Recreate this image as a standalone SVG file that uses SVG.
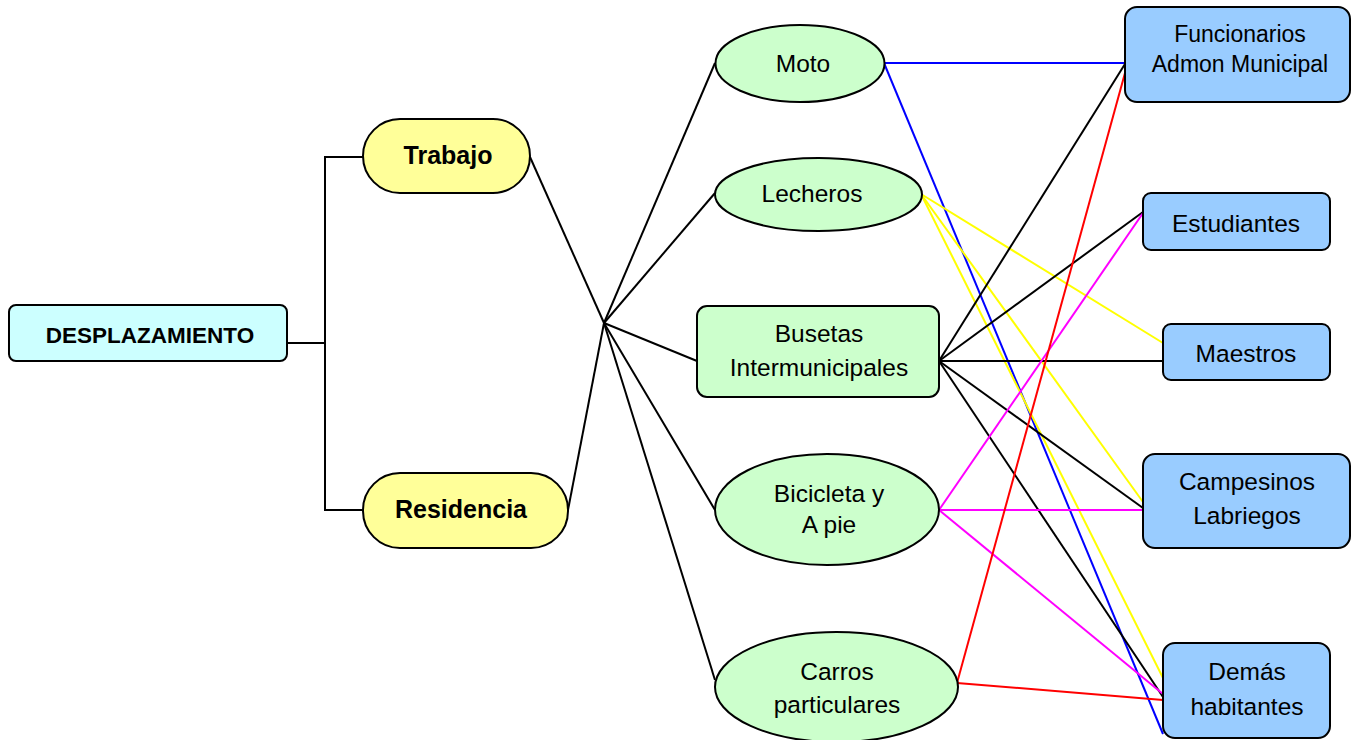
<svg xmlns="http://www.w3.org/2000/svg" width="1358" height="740" viewBox="0 0 1358 740">
<style>
text{font-family:"Liberation Sans",Arial,sans-serif;fill:#000;text-anchor:middle}
.b{font-weight:bold}
.n{font-size:24.5px}
.shape{stroke:#000;stroke-width:2}
.root{fill:#ccffff}
.yel{fill:#ffff99}
.grn{fill:#ccffcc}
.blu{fill:#99ccff}
#connectors line,#connectors polyline{fill:none;stroke-width:2}
.k{stroke:#000}
.bl{stroke:#0000ff}
.y{stroke:#ffff00}
.m{stroke:#ff00ff}
.r{stroke:#ff0000}
</style>
<rect width="1358" height="740" fill="#fff"/>
<g id="connectors">
<polyline class="k" points="287,343 325,343"/>
<polyline class="k" points="363,157 325,157 325,510 363,510"/>
<line class="k" x1="530" y1="157" x2="604" y2="323"/>
<line class="k" x1="568" y1="510" x2="604" y2="323"/>
<line class="k" x1="604" y1="323" x2="715" y2="63"/>
<line class="k" x1="604" y1="323" x2="715" y2="193"/>
<line class="k" x1="604" y1="323" x2="697" y2="361"/>
<line class="k" x1="604" y1="323" x2="715" y2="510"/>
<line class="k" x1="604" y1="323" x2="715" y2="680"/>
<line class="bl" x1="884" y1="63" x2="1125" y2="63"/>
<line class="bl" x1="884" y1="63" x2="1163" y2="734"/>
<line class="y" x1="921" y1="194" x2="1163" y2="343"/>
<line class="y" x1="921" y1="194" x2="1143" y2="502"/>
<line class="y" x1="921" y1="194" x2="1163" y2="678"/>
<line class="k" x1="939" y1="361" x2="1125" y2="64"/>
<line class="k" x1="939" y1="361" x2="1143" y2="212"/>
<line class="k" x1="939" y1="361" x2="1163" y2="361"/>
<line class="k" x1="939" y1="361" x2="1143" y2="508"/>
<line class="k" x1="939" y1="361" x2="1163" y2="697"/>
<line class="m" x1="939" y1="510" x2="1143" y2="213"/>
<line class="m" x1="939" y1="510" x2="1143" y2="510"/>
<line class="m" x1="939" y1="510" x2="1163" y2="694"/>
<line class="r" x1="957" y1="683" x2="1125" y2="73"/>
<line class="r" x1="957" y1="683" x2="1163" y2="700"/>
</g>
<g id="desplazamiento">
<rect class="shape root" x="9" y="305" width="278" height="56" rx="7"/>
<text class="b" x="150" y="343" font-size="22.5">DESPLAZAMIENTO</text>
</g>
<g id="trabajo">
<rect class="shape yel" x="363" y="119" width="167" height="74" rx="37"/>
<text class="b" x="448" y="164" font-size="25">Trabajo</text>
</g>
<g id="residencia">
<rect class="shape yel" x="363" y="473" width="205" height="75" rx="37"/>
<text class="b" x="461" y="518" font-size="25">Residencia</text>
</g>
<g id="moto">
<ellipse class="shape grn" cx="800" cy="63.5" rx="84.5" ry="38.5"/>
<text class="n" x="803" y="72">Moto</text>
</g>
<g id="lecheros">
<ellipse class="shape grn" cx="818.5" cy="194.5" rx="103.5" ry="36.5"/>
<text class="n" x="812" y="202">Lecheros</text>
</g>
<g id="busetas">
<rect class="shape grn" x="697" y="306" width="242" height="91" rx="10"/>
<text class="n" x="819" y="342">Busetas</text>
<text class="n" x="819" y="376">Intermunicipales</text>
</g>
<g id="bicicleta">
<ellipse class="shape grn" cx="827" cy="509.5" rx="112" ry="55.5"/>
<text class="n" x="829" y="502">Bicicleta y</text>
<text class="n" x="829" y="533">A pie</text>
</g>
<g id="carros">
<ellipse class="shape grn" cx="836.5" cy="687" rx="121.5" ry="55"/>
<text class="n" x="837" y="680">Carros</text>
<text class="n" x="837" y="713">particulares</text>
</g>
<g id="funcionarios">
<rect class="shape blu" x="1125" y="7" width="225" height="95" rx="12"/>
<text x="1240" y="42" font-size="23">Funcionarios</text>
<text x="1240" y="72" font-size="23">Admon Municipal</text>
</g>
<g id="estudiantes">
<rect class="shape blu" x="1143" y="193" width="187" height="57" rx="8"/>
<text class="n" x="1236" y="232">Estudiantes</text>
</g>
<g id="maestros">
<rect class="shape blu" x="1163" y="324" width="167" height="56" rx="8"/>
<text class="n" x="1246" y="362">Maestros</text>
</g>
<g id="campesinos">
<rect class="shape blu" x="1143" y="454" width="207" height="94" rx="12"/>
<text class="n" x="1247" y="490">Campesinos</text>
<text class="n" x="1247" y="524">Labriegos</text>
</g>
<g id="demas">
<rect class="shape blu" x="1163" y="643" width="167" height="95" rx="12"/>
<text class="n" x="1247" y="680">Demás</text>
<text class="n" x="1247" y="715">habitantes</text>
</g>
</svg>
